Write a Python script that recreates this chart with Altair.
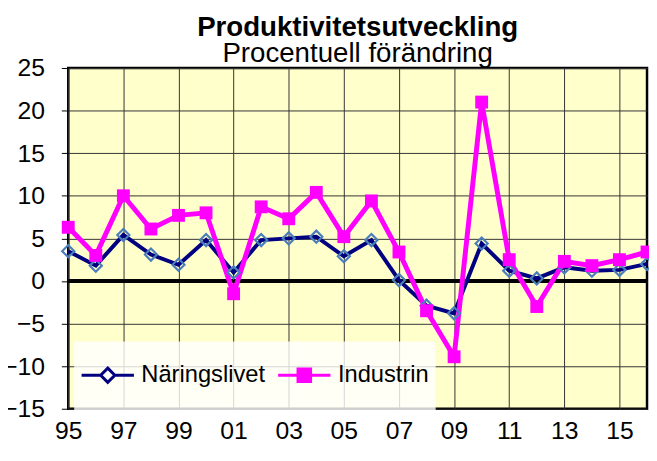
import altair as alt
import pandas as pd

years = list(range(1995, 2017))
naringslivet = [3.5, 1.8, 5.4, 3.1, 1.9, 4.8, 1.0, 4.8, 5.0, 5.2, 2.9, 4.8,
                0.1, -2.9, -3.8, 4.4, 1.2, 0.3, 1.6, 1.2, 1.3, 2.0]
industrin = [6.3, 3.0, 10.0, 6.1, 7.7, 8.0, -1.5, 8.7, 7.3, 10.4, 5.2, 9.4,
             3.4, -3.5, -8.9, 21.0, 2.5, -3.0, 2.3, 1.8, 2.5, 3.4]
series_names = ["Näringslivet", "Industrin"]
y_ticks = [-15, -10, -5, 0, 5, 10, 15, 20, 25]
zero_line = [0]

rows = []
for name, vals in zip(series_names, [naringslivet, industrin]):
    for yr, v in zip(years, vals):
        rows.append({"year": yr, "value": v, "serie": name})
df = pd.DataFrame(rows)

FONT = "Liberation Sans"
NAVY = "#000080"
MAGENTA = "#FF00FF"
DIAMOND = "#4A7EBB"

x_enc = alt.X("year:Q",
              scale=alt.Scale(domain=[1995, 2016], nice=False, zero=False),
              axis=alt.Axis(values=years,
                            labelExpr="datum.value % 2 == 1 ? substring(toString(datum.value), 2, 4) : ''",
                            ticks=False, grid=True, gridColor="#333333", gridWidth=1,
                            domain=False, labelFontSize=25, labelFont=FONT,
                            labelColor="black", labelPadding=10, title=None,
                            labelFlush=False, labelOverlap=False))
y_enc = alt.Y("value:Q",
              scale=alt.Scale(domain=[-15, 25], nice=False),
              axis=alt.Axis(values=y_ticks, tickSize=7, tickColor="black",
                            labelPadding=17, labelFontSize=25, labelFont=FONT,
                            labelColor="black", domain=False, grid=True,
                            gridColor="#333333", gridWidth=1, title=None))

base = alt.Chart(df)
nar = base.transform_filter(alt.datum.serie == "Näringslivet")
ind = base.transform_filter(alt.datum.serie == "Industrin")

zero = alt.Chart(pd.DataFrame({"y": zero_line})).mark_rule(
    color="black", strokeWidth=4).encode(y=alt.Y("y:Q"))

nar_line = nar.mark_line(color=NAVY, strokeWidth=4).encode(x=x_enc, y=y_enc)
ind_line = ind.mark_line(color=MAGENTA, strokeWidth=5).encode(x="year:Q", y="value:Q")

diamonds = nar.mark_point(shape="diamond", size=150, filled=False, stroke=DIAMOND,
                          strokeWidth=2.2, opacity=1).encode(x="year:Q", y="value:Q")
squares = ind.mark_point(shape="square", size=170, filled=True, color=MAGENTA,
                         opacity=1).encode(x="year:Q", y="value:Q")

diamond_path = "M0,-0.9M0,0.9M-1,0H-0.27M0.27,0H1M0,-0.27L0.27,0L0,0.27L-0.27,0Z"
square_path = "M0,-0.9M0,0.9M-1,0H1M-0.24,-0.24H0.24V0.24H-0.24Z"

leg = alt.Legend(title=None, orient="none", legendX=6, legendY=277,
                 direction="horizontal", fillColor="rgba(255,255,255,0.8)",
                 padding=6, symbolSize=2809, symbolStrokeWidth=3,
                 symbolOpacity=1, labelFontSize=24, labelFont=FONT,
                 labelColor="black", labelOffset=6, columnPadding=6)

legend_layer = base.mark_point(opacity=0).encode(
    x="year:Q", y="value:Q",
    shape=alt.Shape("serie:N", scale=alt.Scale(domain=series_names, range=[diamond_path, square_path]),
                    legend=leg),
    stroke=alt.Stroke("serie:N", scale=alt.Scale(domain=series_names, range=[NAVY, MAGENTA]),
                      legend=leg),
    fill=alt.Fill("serie:N", scale=alt.Scale(domain=series_names, range=["white", MAGENTA]),
                  legend=leg),
)

chart = alt.layer(zero, nar_line, ind_line, diamonds, squares, legend_layer).properties(
    width=586, height=345,
    autosize=alt.AutoSizeParams(type="none"),
    padding={"left": 61, "top": 58, "right": 2, "bottom": 37},
    title=alt.TitleParams(text="Produktivitetsutveckling", subtitle="Procentuell förändring",
                          anchor="middle", frame="group", font=FONT, fontSize=28,
                          fontWeight="bold", color="black", subtitleFont=FONT,
                          subtitleFontSize=28, subtitleColor="black",
                          subtitlePadding=-2, offset=-12),
).configure_view(fill="#FFFFCC", stroke="black", strokeWidth=2.5)

chart.save("out.html", embed_options={"renderer": "svg", "actions": False})
